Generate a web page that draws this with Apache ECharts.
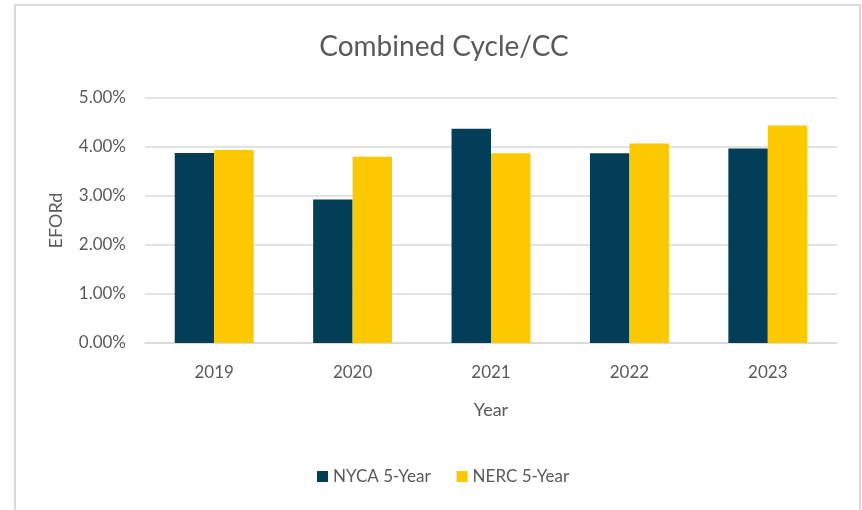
<!DOCTYPE html>
<html><head><meta charset="utf-8">
<script src="https://cdn.jsdelivr.net/npm/echarts@6/dist/echarts.min.js"></script>
<style>html,body{margin:0;padding:0;background:#fff}#c{width:862px;height:510px}</style>
</head><body><div id="c"></div>
<script>
const categories = ['2019','2020','2021','2022','2023'];
const nycaValues = [3.88, 2.93, 4.37, 3.87, 3.97];
const nercValues = [3.94, 3.80, 3.87, 4.07, 4.44];
const seriesNames = ['NYCA 5-Year','NERC 5-Year'];
const yTicks = [0,1,2,3,4,5];

const FONT = 'Lato';
const TXT = '#595959';
const chart = echarts.init(document.getElementById('c'));
chart.setOption({
  animation:false,
  backgroundColor:'#fff',
  graphic:[{type:'rect',shape:{x:15,y:5,width:845,height:600},style:{fill:'none',stroke:'#d9d9d9',lineWidth:2},silent:true}],
  title:{text:'Combined Cycle/CC',left:439,textAlign:'center',top:28,textStyle:{fontFamily:FONT,fontSize:28,fontWeight:'normal',color:TXT}},
  grid:{left:145,right:25,top:98,bottom:167},
  legend:{top:463,left:312,itemWidth:11,itemHeight:11,itemGap:26,icon:'rect',
    textStyle:{fontFamily:FONT,fontSize:17,color:TXT}},
  xAxis:{type:'category',data:categories,name:'Year',nameLocation:'middle',nameGap:58,
    nameTextStyle:{fontFamily:FONT,fontSize:18,color:TXT},
    axisLine:{lineStyle:{color:'#d9d9d9',width:1.5}},axisTick:{show:false},
    axisLabel:{fontFamily:FONT,fontSize:17,color:TXT,margin:21}},
  yAxis:{type:'value',min:yTicks[0],max:yTicks[yTicks.length-1],interval:1,name:'EFORd',nameLocation:'middle',nameGap:80,
    nameTextStyle:{fontFamily:FONT,fontSize:18,color:TXT},
    axisLine:{show:false},axisTick:{show:false},
    splitLine:{lineStyle:{color:'#d9d9d9',width:1.5}},
    axisLabel:{fontFamily:FONT,fontSize:17,color:TXT,margin:19,formatter:v=>v.toFixed(2)+'%'}},
  series:[
    {name:seriesNames[0],type:'bar',data:nycaValues,itemStyle:{color:'#023E58'},barGap:'0%',barCategoryGap:'43%'},
    {name:seriesNames[1],type:'bar',data:nercValues,itemStyle:{color:'#FCC800'},barGap:'0%',barCategoryGap:'43%'}
  ]
});
</script></body></html>
